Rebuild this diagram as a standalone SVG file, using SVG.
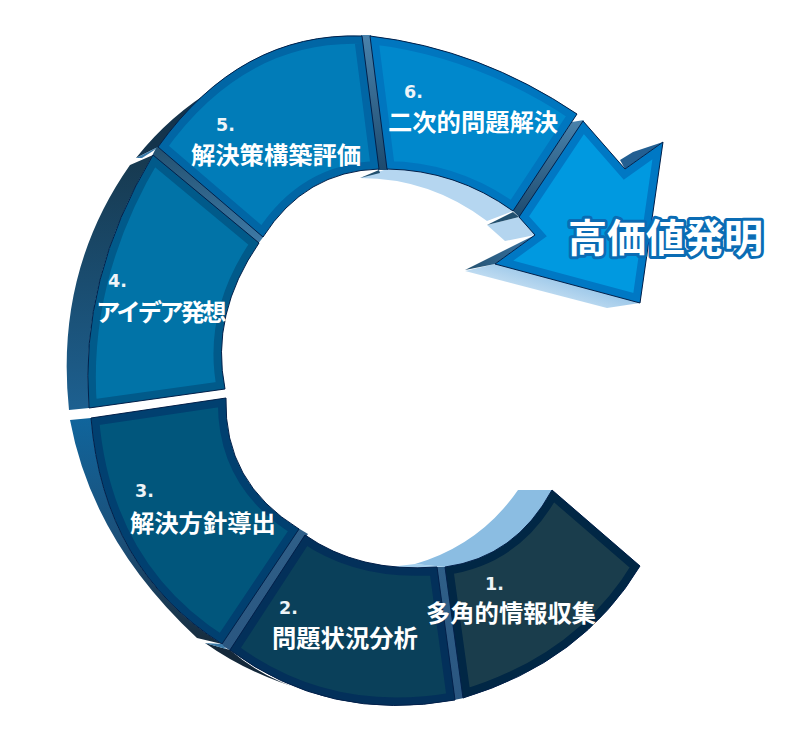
<svg xmlns="http://www.w3.org/2000/svg" xmlns:xlink="http://www.w3.org/1999/xlink" width="800" height="740" viewBox="0 0 800 740">
<style>
.t{font-family:"Noto Sans CJK JP","Noto Sans",sans-serif;font-weight:700;font-size:24.300px;fill:#fff}
.n{font-family:"DejaVu Sans","Noto Sans",sans-serif;font-weight:700;font-size:17.500px;fill:#eef4f8}
.o{fill:none;stroke:#03204a;stroke-width:1}
.big{font-family:"Noto Sans CJK JP","Noto Sans",sans-serif;font-weight:700;font-size:39px;fill:#fff;stroke:#0a6cb4;stroke-width:6;paint-order:stroke;stroke-linejoin:round}
</style>
<defs>
<path id="p1" d="M552,490 L640,566 Q582.5,662 463,698 L445,567 Q515.5,557.5 552,490Z"/>
<path id="p2" d="M305,535 Q359,573 437,567 L455,700 Q328,723 230,650Z"/>
<path id="p3" d="M226,398 Q223.500,482.500 299,529 L222,644 Q103.500,569 91,418Z"/>
<path id="p4" d="M153,155 L259,243 Q210,314 225,389 L89,408 Q79,278.500 153,155Z"/>
<path id="p5" d="M158,147 Q240,32 362,36 L379,169 Q305,171 263,237Z"/>
<path id="p6" d="M370,36 Q480.500,49 577,114 L513,211 Q456,170 387,169Z"/>
<path id="pa" d="M583,121 L625,169 L663,142 L640,303 L495,264 L535,235 L519,217Z"/>
<clipPath id="c1"><use xlink:href="#p1"/></clipPath>
<clipPath id="c2"><use xlink:href="#p2"/></clipPath>
<clipPath id="c3"><use xlink:href="#p3"/></clipPath>
<clipPath id="c4"><use xlink:href="#p4"/></clipPath>
<clipPath id="c5"><use xlink:href="#p5"/></clipPath>
<clipPath id="c6"><use xlink:href="#p6"/></clipPath>
<clipPath id="ca"><use xlink:href="#pa"/></clipPath>
<linearGradient id="gs4" x1="0" y1="0" x2="0" y2="1"><stop offset="0" stop-color="#17394f"/><stop offset="1" stop-color="#1d6090"/></linearGradient>
<linearGradient id="gs3" x1="0" y1="0" x2="0" y2="1"><stop offset="0" stop-color="#10659c"/><stop offset="0.55" stop-color="#1c4f78"/><stop offset="1" stop-color="#172c3d"/></linearGradient>
<linearGradient id="gd" x1="0" y1="0" x2="0" y2="1"><stop offset="0" stop-color="#4a82ab"/><stop offset="1" stop-color="#1d4a6e"/></linearGradient>
<linearGradient id="gd3" x1="0" y1="0" x2="0" y2="1"><stop offset="0" stop-color="#2f5f88"/><stop offset="1" stop-color="#2a5680"/></linearGradient>
<linearGradient id="gd4" x1="0" y1="0" x2="0" y2="1"><stop offset="0" stop-color="#23506f"/><stop offset="1" stop-color="#3f7aa6"/></linearGradient>
<linearGradient id="gl" gradientUnits="userSpaceOnUse" x1="560" y1="270" x2="548" y2="310"><stop offset="0" stop-color="#8fc0e6"/><stop offset="1" stop-color="#d5e8f6"/></linearGradient>
<linearGradient id="gf" x1="0" y1="0" x2="1" y2="0"><stop offset="0" stop-color="#23506f"/><stop offset="1" stop-color="#3a76a6"/></linearGradient>
</defs>

<g id="undersides">
<path d="M360,178 L387,169 Q456,170 513,211 L487,221 Q430,178 360,178Z" fill="#b5d6f0"/>
<path d="M487,225 L519,217 L535,235 L505,241Z" fill="#b4d5ef"/>
<path d="M465,271 L495,264 L640,303 L607,308Z" fill="url(#gl)"/>
<path d="M390,567 L415,564 L445,567 L437,568Z" fill="#a5d0ee"/>
<path d="M415,564 Q480,545 518,490 L552,490 Q515.500,557.500 445,567Z" fill="#8bbde2"/>
</g>

<g id="connectors">
<path d="M361,35 L371,35 L388,170 L378,170Z" fill="url(#gd)"/>
<path d="M572,122 L584,120 L520,218 L512,210Z" fill="url(#gd)"/>
<path d="M152,156 L157,146 L264,236 L258,244Z" fill="url(#gd4)"/>
<path d="M221,645 L298,528 L308,534 L231,651Z" fill="url(#gd3)"/>
<path d="M436,567 L446,567 L464,698 L454,700Z" fill="url(#gd3)"/>
<path d="M360,178 L379,170 L380,173 Z" fill="#23506f"/>
</g>

<g id="result">
<path d="M620,160 L633,152 L663,142 L625,169Z" fill="#235f92"/>
<path d="M487,225 L513,212 L519,217Z" fill="#23506f"/>
<path d="M465,270 L535,235 L495,264Z" fill="url(#gf)"/>
<use xlink:href="#pa" fill="#0099e0" stroke="#0078c4" stroke-width="16" clip-path="url(#ca)"/><use xlink:href="#pa" class="o"/>
<text class="big" x="568" y="252">高価値発明</text></g>

<g id="step6"><use xlink:href="#p6" fill="#0088cc" stroke="#0076bf" stroke-width="16" clip-path="url(#c6)"/><use xlink:href="#p6" class="o"/>
<text class="n" x="404" y="98">6.</text><text class="t" x="388" y="131">二次的問題解決</text></g>

<g id="step5"><path d="M136,158 L158,147 Q185,112 217,87 Q170,115 136,158Z" fill="#14344c"/>
<path d="M136,158 L158,147 L153,151 L142,158Z" fill="#3a7aa8"/>
<use xlink:href="#p5" fill="#017cb8" stroke="#0166a5" stroke-width="16" clip-path="url(#c5)"/><use xlink:href="#p5" class="o"/>
<text class="n" x="216" y="131">5.</text><text class="t" x="191" y="164">解決策構築評価</text></g>

<g id="step4"><path d="M130,165 L153,155 Q79,278.500 89,408 L69,410 Q54.500,272.500 130,165Z" fill="url(#gs4)"/>
<use xlink:href="#p4" fill="#0173a7" stroke="#015a8a" stroke-width="16" clip-path="url(#c4)"/><use xlink:href="#p4" class="o"/>
<text class="n" x="108" y="287">4.</text><text class="t" x="96" y="321" letter-spacing="-2.800">アイデア発想</text></g>

<g id="step3"><path d="M70,420 L91,418 Q103.500,569 222,644 L197,638 Q92.500,541 70,420Z" fill="url(#gs3)"/>
<use xlink:href="#p3" fill="#01567c" stroke="#014070" stroke-width="16" clip-path="url(#c3)"/><use xlink:href="#p3" class="o"/>
<text class="n" x="135" y="497">3.</text><text class="t" x="130" y="532">解決方針導出</text></g>

<g id="step2"><path d="M205,643 L230,650 Q265,680 310,692 Q250,675 205,643Z" fill="#14283a"/>
<path d="M205,643 L222,644 L226,649Z" fill="#3c7ba8"/>
<use xlink:href="#p2" fill="#0a405a" stroke="#03305a" stroke-width="16" clip-path="url(#c2)"/><use xlink:href="#p2" class="o"/>
<text class="n" x="279" y="614">2.</text><text class="t" x="272" y="647">問題状況分析</text></g>

<g id="step1"><use xlink:href="#p1" fill="#1a3d4c" stroke="#012745" stroke-width="16" clip-path="url(#c1)"/><use xlink:href="#p1" class="o"/>
<text class="n" x="485" y="590">1.</text><text class="t" x="426" y="622">多角的情報収集</text></g>
</svg>
